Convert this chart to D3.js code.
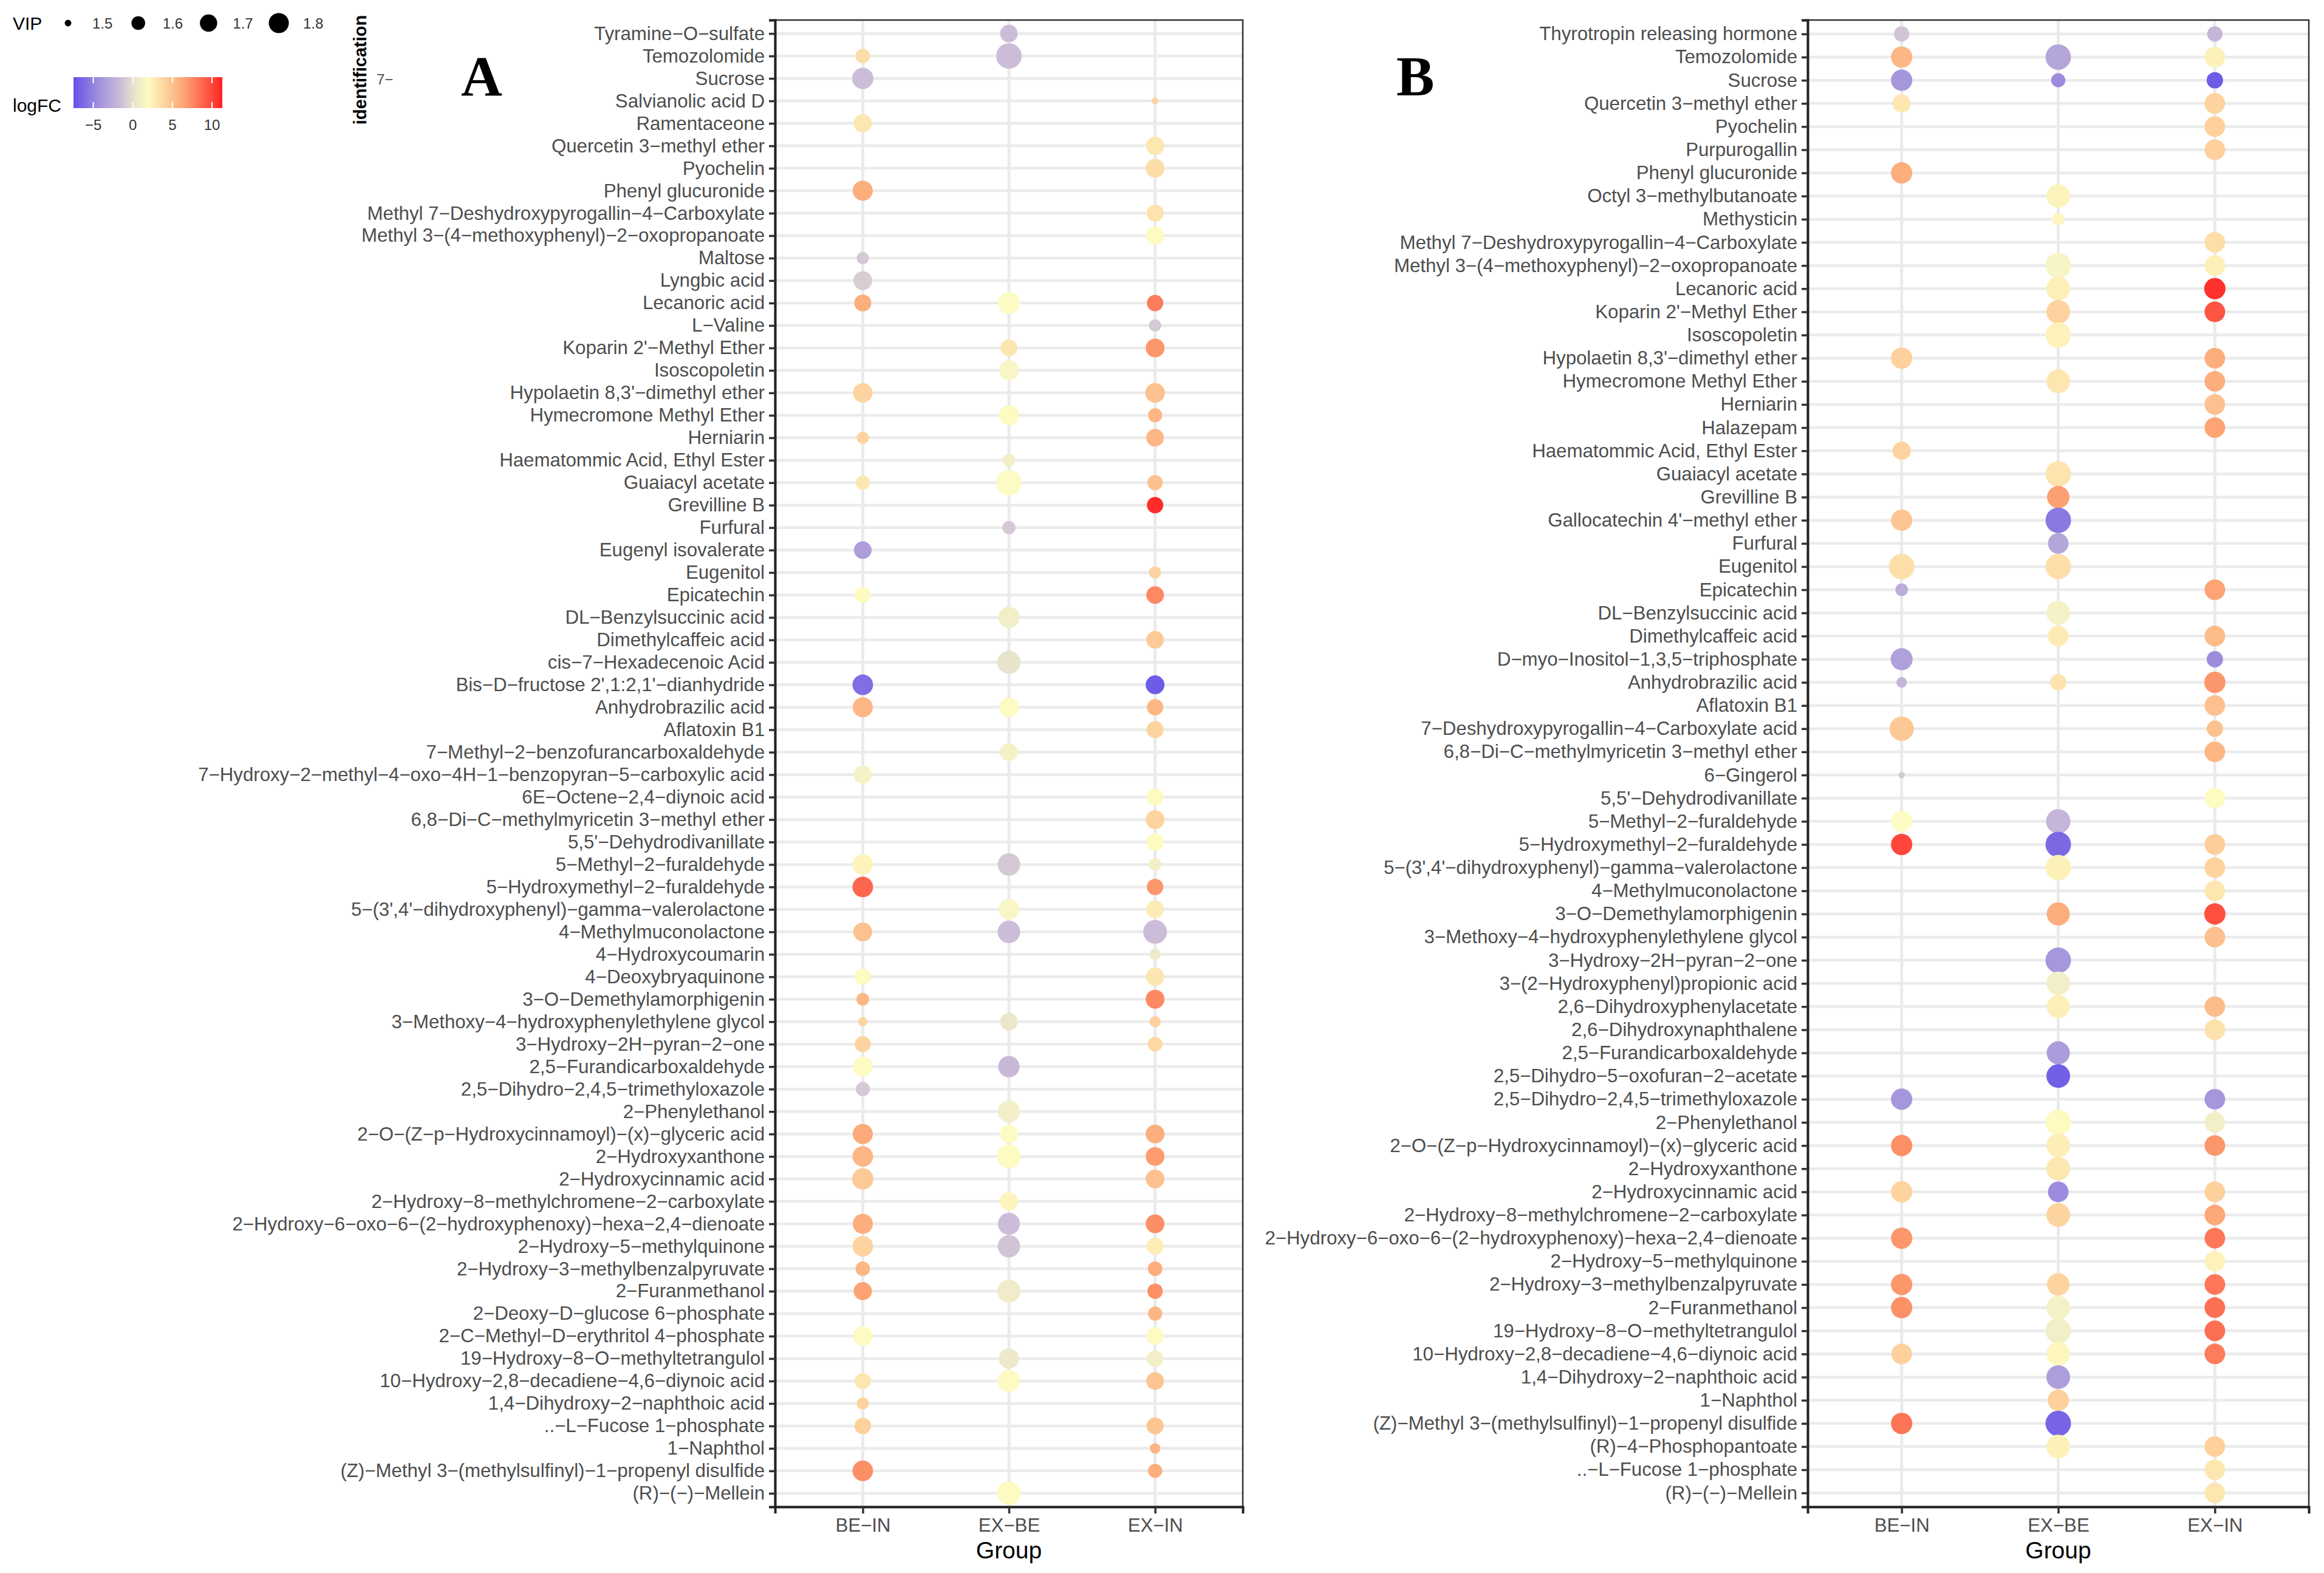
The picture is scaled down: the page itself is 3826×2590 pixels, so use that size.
<!DOCTYPE html>
<html>
<head>
<meta charset="utf-8">
<script src="https://cdn.jsdelivr.net/npm/d3@7"></script>
<style>
  body { margin: 0; background: #fff; }
  text { font-family: "Liberation Sans", Arial, sans-serif; }
</style>
</head>
<body>
<svg id="chart" width="3826" height="2590"></svg>
<script>
var groups = ["BE-IN", "EX-BE", "EX-IN"];

// panel A compounds, top to bottom
var compoundsA = [
  "Tyramine-O-sulfate", "Temozolomide", "Sucrose", "Salvianolic acid D", "Ramentaceone",
  "Quercetin 3-methyl ether", "Pyochelin", "Phenyl glucuronide",
  "Methyl 7-Deshydroxypyrogallin-4-Carboxylate", "Methyl 3-(4-methoxyphenyl)-2-oxopropanoate",
  "Maltose", "Lyngbic acid", "Lecanoric acid", "L-Valine", "Koparin 2'-Methyl Ether",
  "Isoscopoletin", "Hypolaetin 8,3'-dimethyl ether", "Hymecromone Methyl Ether", "Herniarin",
  "Haematommic Acid, Ethyl Ester", "Guaiacyl acetate", "Grevilline B", "Furfural",
  "Eugenyl isovalerate", "Eugenitol", "Epicatechin", "DL-Benzylsuccinic acid",
  "Dimethylcaffeic acid", "cis-7-Hexadecenoic Acid", "Bis-D-fructose 2',1:2,1'-dianhydride",
  "Anhydrobrazilic acid", "Aflatoxin B1", "7-Methyl-2-benzofurancarboxaldehyde",
  "7-Hydroxy-2-methyl-4-oxo-4H-1-benzopyran-5-carboxylic acid", "6E-Octene-2,4-diynoic acid",
  "6,8-Di-C-methylmyricetin 3-methyl ether", "5,5'-Dehydrodivanillate", "5-Methyl-2-furaldehyde",
  "5-Hydroxymethyl-2-furaldehyde", "5-(3',4'-dihydroxyphenyl)-gamma-valerolactone",
  "4-Methylmuconolactone", "4-Hydroxycoumarin", "4-Deoxybryaquinone", "3-O-Demethylamorphigenin",
  "3-Methoxy-4-hydroxyphenylethylene glycol", "3-Hydroxy-2H-pyran-2-one",
  "2,5-Furandicarboxaldehyde", "2,5-Dihydro-2,4,5-trimethyloxazole", "2-Phenylethanol",
  "2-O-(Z-p-Hydroxycinnamoyl)-(x)-glyceric acid", "2-Hydroxyxanthone", "2-Hydroxycinnamic acid",
  "2-Hydroxy-8-methylchromene-2-carboxylate",
  "2-Hydroxy-6-oxo-6-(2-hydroxyphenoxy)-hexa-2,4-dienoate", "2-Hydroxy-5-methylquinone",
  "2-Hydroxy-3-methylbenzalpyruvate", "2-Furanmethanol", "2-Deoxy-D-glucose 6-phosphate",
  "2-C-Methyl-D-erythritol 4-phosphate", "19-Hydroxy-8-O-methyltetrangulol",
  "10-Hydroxy-2,8-decadiene-4,6-diynoic acid", "1,4-Dihydroxy-2-naphthoic acid",
  "..-L-Fucose 1-phosphate", "1-Naphthol", "(Z)-Methyl 3-(methylsulfinyl)-1-propenyl disulfide",
  "(R)-(-)-Mellein"
];

// panel A, one value per compound (null = no point)
var vipA_beIn = [
  null, 1.62, 1.85, null, 1.73, null, null, 1.80, null, null,
  1.57, 1.75, 1.69, null, null, null, 1.78, null, 1.57, null,
  1.61, null, null, 1.71, null, 1.66, null, null, null, 1.82,
  1.80, null, null, 1.73, null, null, null, 1.82, 1.82, null,
  1.75, null, 1.67, 1.58, 1.52, 1.66, 1.80, 1.61, null, 1.80,
  1.82, 1.85, null, 1.80, 1.82, 1.62, 1.73, null, 1.78, null,
  1.66, 1.57, 1.67, null, 1.82, null
];
var fcA_beIn = [
  null, 3.5, -1.5, null, 3, null, null, 6, null, null,
  -1, -0.8, 6, null, null, null, 4, null, 4, null,
  3, null, null, -3.5, null, 2, null, null, null, -6,
  5.5, null, null, 1.2, null, null, null, 2.3, 8.8, null,
  5, null, 2, 5.5, 4, 4, 1.8, -1, null, 6.2,
  5.5, 4.5, null, 6, 4, 5.5, 6.5, null, 2, null,
  3, 4, 4.2, null, 7.3, null
];
var vipA_exBe = [
  1.71, 2.05, null, null, null, null, null, null, null, null,
  null, null, 1.88, null, 1.69, 1.80, null, 1.80, null, 1.58,
  2.05, null, 1.59, null, null, null, 1.85, null, 1.93, null,
  1.78, null, 1.73, null, null, null, null, 1.90, null, 1.82,
  1.90, null, null, null, 1.71, null, 1.85, null, 1.88, 1.73,
  1.96, null, 1.73, 1.88, 1.90, null, 1.93, null, null, 1.80,
  1.88, null, null, null, null, 1.96
];
var fcA_exBe = [
  -1.5, -1.5, null, null, null, null, null, null, null, null,
  null, null, 1.8, null, 3, 1.5, null, 2, null, 1,
  1.8, null, -1, null, null, null, 1, null, 0.2, null,
  1.8, null, 1.2, null, null, null, null, -1, null, 1.5,
  -1.5, null, null, null, 0.5, null, -1.8, null, 1, 1.8,
  2, null, 2.3, -1.5, -1.2, null, 0.8, null, null, 0.6,
  2, null, null, null, null, 2
];
var vipA_exIn = [
  null, null, null, 1.50, null, 1.73, 1.75, null, 1.69, 1.73,
  null, null, 1.67, 1.57, 1.75, null, 1.78, 1.61, 1.71, null,
  1.64, 1.67, null, null, 1.57, 1.71, null, 1.71, null, 1.75,
  1.67, 1.69, null, null, 1.69, 1.75, 1.71, 1.58, 1.67, 1.71,
  1.96, 1.55, 1.73, 1.75, 1.55, 1.62, null, null, null, 1.75,
  1.75, 1.75, null, 1.75, 1.69, 1.62, 1.64, 1.61, 1.69, 1.67,
  1.71, null, 1.69, 1.54, 1.61, null
];
var fcA_exIn = [
  null, null, null, 4, null, 3, 3.5, null, 3.2, 2,
  null, null, 8, -1, 7, null, 5, 5.5, 5.5, null,
  5, 11, null, null, 4, 7.5, null, 4.5, null, -7,
  5.5, 4, null, null, 2, 4, 2, 1, 7, 2.8,
  -1.5, 0.7, 3, 7.5, 4.2, 3.8, null, null, null, 6,
  6.8, 5, null, 7.3, 2.7, 6, 7.3, 5.5, 2, 1,
  4.8, null, 4.8, 5.6, 6, null
];

// panel B compounds, top to bottom
var compoundsB = [
  "Thyrotropin releasing hormone", "Temozolomide", "Sucrose", "Quercetin 3-methyl ether",
  "Pyochelin", "Purpurogallin", "Phenyl glucuronide", "Octyl 3-methylbutanoate", "Methysticin",
  "Methyl 7-Deshydroxypyrogallin-4-Carboxylate", "Methyl 3-(4-methoxyphenyl)-2-oxopropanoate",
  "Lecanoric acid", "Koparin 2'-Methyl Ether", "Isoscopoletin", "Hypolaetin 8,3'-dimethyl ether",
  "Hymecromone Methyl Ether", "Herniarin", "Halazepam", "Haematommic Acid, Ethyl Ester",
  "Guaiacyl acetate", "Grevilline B", "Gallocatechin 4'-methyl ether", "Furfural", "Eugenitol",
  "Epicatechin", "DL-Benzylsuccinic acid", "Dimethylcaffeic acid",
  "D-myo-Inositol-1,3,5-triphosphate", "Anhydrobrazilic acid", "Aflatoxin B1",
  "7-Deshydroxypyrogallin-4-Carboxylate acid", "6,8-Di-C-methylmyricetin 3-methyl ether",
  "6-Gingerol", "5,5'-Dehydrodivanillate", "5-Methyl-2-furaldehyde",
  "5-Hydroxymethyl-2-furaldehyde", "5-(3',4'-dihydroxyphenyl)-gamma-valerolactone",
  "4-Methylmuconolactone", "3-O-Demethylamorphigenin", "3-Methoxy-4-hydroxyphenylethylene glycol",
  "3-Hydroxy-2H-pyran-2-one", "3-(2-Hydroxyphenyl)propionic acid", "2,6-Dihydroxyphenylacetate",
  "2,6-Dihydroxynaphthalene", "2,5-Furandicarboxaldehyde", "2,5-Dihydro-5-oxofuran-2-acetate",
  "2,5-Dihydro-2,4,5-trimethyloxazole", "2-Phenylethanol",
  "2-O-(Z-p-Hydroxycinnamoyl)-(x)-glyceric acid", "2-Hydroxyxanthone", "2-Hydroxycinnamic acid",
  "2-Hydroxy-8-methylchromene-2-carboxylate",
  "2-Hydroxy-6-oxo-6-(2-hydroxyphenoxy)-hexa-2,4-dienoate", "2-Hydroxy-5-methylquinone",
  "2-Hydroxy-3-methylbenzalpyruvate", "2-Furanmethanol", "19-Hydroxy-8-O-methyltetrangulol",
  "10-Hydroxy-2,8-decadiene-4,6-diynoic acid", "1,4-Dihydroxy-2-naphthoic acid", "1-Naphthol",
  "(Z)-Methyl 3-(methylsulfinyl)-1-propenyl disulfide", "(R)-4-Phosphopantoate",
  "..-L-Fucose 1-phosphate", "(R)-(-)-Mellein"
];

var vipB_beIn = [
  1.64, 1.85, 1.85, 1.73, null, null, 1.85, null, null, null,
  null, null, null, null, 1.85, null, null, null, 1.73, null,
  null, 1.85, null, 2.05, 1.58, null, null, 1.88, 1.54, null,
  1.99, null, 1.50, null, 1.85, 1.85, null, null, null, null,
  null, null, null, null, null, null, 1.85, null, 1.85, null,
  1.85, null, 1.85, null, 1.85, 1.85, null, 1.82, null, null,
  1.85, null, null, null
];
var fcB_beIn = [
  -1.2, 5.5, -4, 3, null, null, 6, null, null, null,
  null, null, null, null, 4.2, null, null, null, 4, null,
  null, 4.8, null, 3.4, -2.5, null, null, -3.3, -2, null,
  4.6, null, -1, null, 1.9, 10, null, null, null, null,
  null, null, null, null, null, null, -4, null, 7.3, null,
  4, null, 7, null, 7, 7.2, null, 4.2, null, null,
  8.3, null, null, null
];
var vipB_exBe = [
  null, 2.05, 1.61, null, null, null, null, 1.96, 1.57, null,
  2.05, 1.96, 1.96, 2.05, null, 1.96, null, null, null, 2.05,
  1.90, 2.05, 1.82, 2.05, null, 1.96, 1.82, null, 1.67, null,
  null, null, null, null, 1.99, 2.05, 2.05, null, 1.93, null,
  2.05, 1.96, 1.93, null, 1.93, 1.96, null, 2.05, 1.96, 1.96,
  1.82, 1.96, null, null, 1.90, 1.96, 2.05, 1.96, 1.96, 1.85,
  2.05, 1.96, null, null
];
var fcB_exBe = [
  null, -3, -4.5, null, null, null, null, 2.3, 2.2, null,
  1.4, 2.6, 4, 2.4, null, 3, null, null, null, 3.2,
  6.7, -5.5, -3, 3.4, null, 1.2, 2.8, null, 3.2, null,
  null, null, null, null, -2, -6.3, 2.5, null, 6, null,
  -4, 1, 2.6, null, -3.6, -6.8, null, 2, 2.7, 3,
  -4.5, 4, null, null, 4, 1.2, 1, 2.2, -3.5, 4.2,
  -6.5, 2.5, null, null
];
var vipB_exIn = [
  1.64, 1.82, 1.67, 1.82, 1.82, 1.82, null, null, null, 1.82,
  1.82, 1.85, 1.82, null, 1.82, 1.82, 1.82, 1.82, null, null,
  null, null, null, null, 1.82, null, 1.82, 1.67, 1.85, 1.82,
  1.67, 1.82, null, 1.82, null, 1.82, 1.82, 1.82, 1.85, 1.82,
  null, null, 1.82, 1.82, null, null, 1.82, 1.82, 1.82, null,
  1.82, 1.82, 1.82, 1.82, 1.82, 1.82, 1.82, 1.82, null, null,
  null, 1.82, 1.82, 1.82
];
var fcB_exIn = [
  -2, 2.5, -7, 4, 4.2, 4.2, null, null, null, 3.5,
  2.6, 10.8, 9.5, null, 6, 6, 5, 6.5, null, null,
  null, null, null, null, 6.5, null, 5.2, -4.5, 7, 5,
  5, 5.5, null, 2, null, 4.3, 4, 3, 9.7, 5,
  null, null, 5.2, 3.3, null, null, -4, 1, 7, null,
  4.2, 6.3, 8.2, 2.4, 8.2, 8.5, 8.5, 8, null, null,
  null, 4.2, 3, 3
];

// legends
var vipBreaks = [1.5, 1.6, 1.7, 1.8];
var fcBreaks = [-5, 0, 5, 10];
var fcStops = [-7.5, -4, -1.5, 0, 1.9, 6.5, 11.3];
var fcColors = ["#6452e8", "#a696dc", "#cbbdd8", "#e6e0cc", "#fdfcc4", "#fca474", "#ff2424"];

var svg = d3.select("#chart");
var plotTop = 33, plotBottom = 2481;

var color = d3.scaleLinear().domain(fcStops).range(fcColors).clamp(true);
var vipT = d3.scaleLinear().domain([1.495, 2.05]).range([0, 1]).clamp(true);
function diameter(v) {
  return 7.6 + 34.4 * Math.sqrt(vipT(v));
}
function minus(s) {
  return String(s).replace(/-/g, "\u2212");
}

function drawPanel(names, vips, fcs, left, right, tag, tagX) {
  var x = d3.scalePoint().domain(groups).range([left, right]).padding(0.6);
  var y = d3.scalePoint().domain(names).range([plotTop, plotBottom]).padding(0.6);
  var g = svg.append("g");

  // grid
  g.selectAll("line.hgrid").data(names).enter().append("line")
    .attr("x1", left).attr("x2", right)
    .attr("y1", function(d) { return y(d); })
    .attr("y2", function(d) { return y(d); })
    .style("stroke", "#ebebeb").style("stroke-width", 4.5);
  g.selectAll("line.vgrid").data(groups).enter().append("line")
    .attr("y1", plotTop).attr("y2", plotBottom)
    .attr("x1", function(d) { return x(d); })
    .attr("x2", function(d) { return x(d); })
    .style("stroke", "#ebebeb").style("stroke-width", 5);

  var points = [];
  names.forEach(function(n, i) {
    groups.forEach(function(gr, j) {
      if (vips[j][i] != null) points.push({ name: n, group: gr, vip: vips[j][i], fc: fcs[j][i] });
    });
  });

  g.selectAll("circle").data(points).enter().append("circle")
    .attr("cx", function(d) { return x(d.group); })
    .attr("cy", function(d) { return y(d.name); })
    .attr("r", function(d) { return diameter(d.vip) / 2; })
    .style("fill", function(d) { return color(d.fc); });

  g.append("rect")
    .attr("x", left).attr("y", plotTop)
    .attr("width", right - left).attr("height", plotBottom - plotTop)
    .style("fill", "none").style("stroke", "#333").style("stroke-width", 2.5);

  var yAxis = g.append("g")
    .attr("transform", "translate(" + left + ",0)")
    .call(d3.axisLeft(y).tickSize(10).tickPadding(7).tickFormat(minus));
  var xAxis = g.append("g")
    .attr("transform", "translate(0," + plotBottom + ")")
    .call(d3.axisBottom(x).tickSize(11).tickPadding(8).tickFormat(minus));

  [yAxis, xAxis].forEach(function(a) {
    a.select(".domain").style("stroke", "#222").style("stroke-width", 4);
    a.selectAll(".tick line").style("stroke", "#333").style("stroke-width", 3.5);
    a.selectAll(".tick text")
      .style("font-family", "'Liberation Sans', Arial, sans-serif")
      .style("font-size", "31.2px").style("fill", "#4d4d4d");
  });

  g.append("text")
    .attr("x", (left + right) / 2).attr("y", 2566)
    .attr("text-anchor", "middle")
    .style("font-size", "39px").style("fill", "#000")
    .text("Group");

  g.append("text")
    .attr("x", tagX).attr("y", 157)
    .attr("text-anchor", "middle")
    .style("font-family", "'Liberation Serif', 'Times New Roman', serif")
    .style("font-weight", "bold").style("font-size", "94px")
    .text(tag);
}

drawPanel(compoundsA, [vipA_beIn, vipA_exBe, vipA_exIn], [fcA_beIn, fcA_exBe, fcA_exIn],
  1276, 2046, "A", 793);
drawPanel(compoundsB, [vipB_beIn, vipB_exBe, vipB_exIn], [fcB_beIn, fcB_exBe, fcB_exIn],
  2976, 3801, "B", 2330);

// size legend
var leg = svg.append("g");
leg.append("text").attr("x", 21).attr("y", 49)
  .style("font-size", "30px").text("VIP");
var sizeX = d3.scalePoint().domain(vipBreaks).range([112, 459]);
leg.selectAll("circle").data(vipBreaks).enter().append("circle")
  .attr("cx", function(d) { return sizeX(d); })
  .attr("cy", 38)
  .attr("r", function(d) { return diameter(d) / 2; })
  .style("fill", "#000");
leg.selectAll("text.vl").data(vipBreaks).enter().append("text")
  .attr("x", function(d) { return sizeX(d) + 40; })
  .attr("y", 47)
  .style("font-size", "24px").style("fill", "#333")
  .text(function(d) { return d3.format(".1f")(d); });

// colour legend
var barX = d3.scaleLinear().domain([fcStops[0], fcStops[fcStops.length - 1]]).range([121, 366]);
var grad = svg.append("defs").append("linearGradient").attr("id", "fcgrad");
d3.range(0, 1.0001, 0.025).forEach(function(t) {
  var v = barX.invert(121 + t * 245);
  grad.append("stop").attr("offset", (t * 100) + "%").attr("stop-color", color(v));
});
leg.append("rect").attr("x", 121).attr("y", 127).attr("width", 245).attr("height", 51)
  .style("fill", "url(#fcgrad)");
fcBreaks.forEach(function(b) {
  leg.append("line").attr("x1", barX(b)).attr("x2", barX(b)).attr("y1", 127).attr("y2", 137)
    .style("stroke", "#fff").style("stroke-width", 2);
  leg.append("line").attr("x1", barX(b)).attr("x2", barX(b)).attr("y1", 168).attr("y2", 178)
    .style("stroke", "#fff").style("stroke-width", 2);
});
leg.selectAll("text.fl").data(fcBreaks).enter().append("text")
  .attr("x", function(d) { return barX(d); })
  .attr("y", 214)
  .attr("text-anchor", "middle")
  .style("font-size", "24px").style("fill", "#333")
  .text(minus);
leg.append("text").attr("x", 21).attr("y", 184)
  .style("font-size", "30px").text("logFC");

// stray axis title and tick from the source figure
leg.append("text")
  .attr("transform", "translate(603,115) rotate(-90)")
  .attr("text-anchor", "middle")
  .style("font-size", "29px").style("font-weight", "bold")
  .text("identification");
leg.append("text").attr("x", 620).attr("y", 139)
  .style("font-size", "24px").style("fill", "#4d4d4d")
  .text(minus("7-"));
</script>
</body>
</html>
